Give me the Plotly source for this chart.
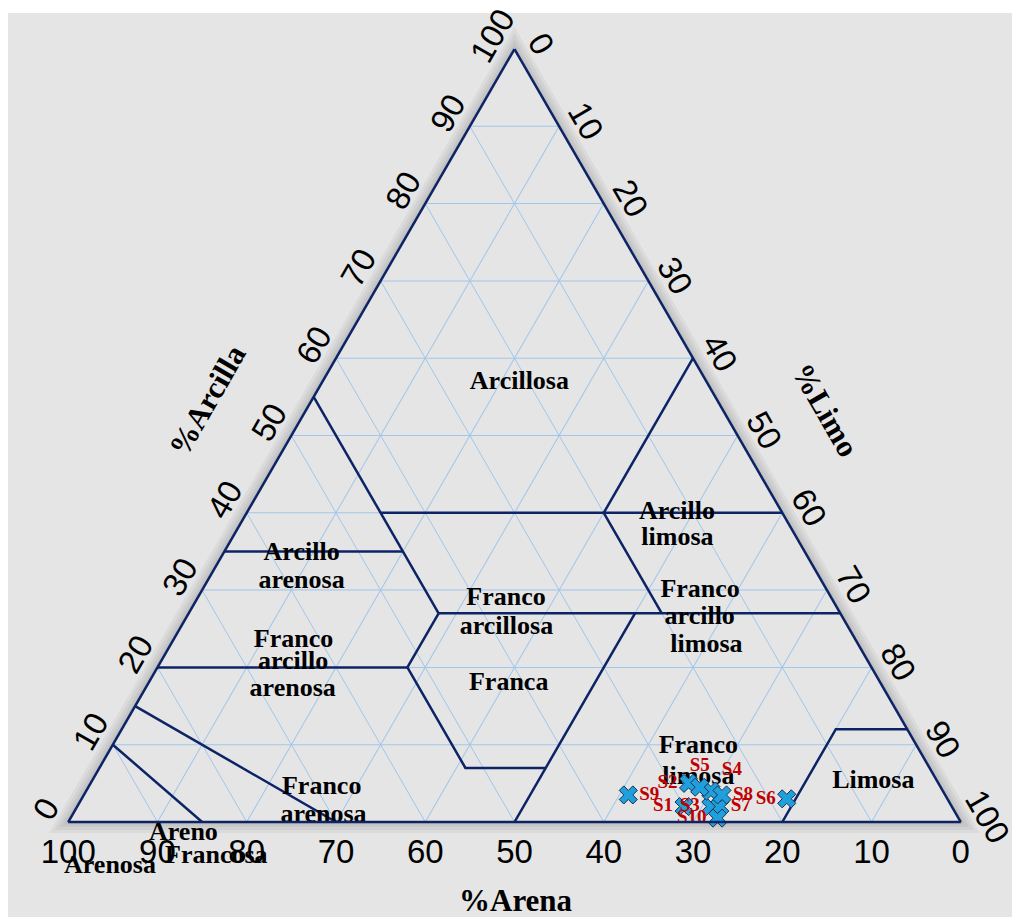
import math
import plotly.graph_objects as go

# ---------------- data ----------------
# samples: clay (%Arcilla), sand (%Arena), silt (%Limo)
samples = ["S1", "S2", "S3", "S4", "S5", "S6", "S7", "S8", "S9", "S10"]
clay = [2.0, 5.0, 2.0, 4.0, 4.5, 3.0, 2.0, 3.5, 3.5, 0.5]
sand = [30.0, 28.0, 27.0, 26.0, 27.0, 18.0, 26.0, 25.0, 35.5, 27.0]
silt = [68.0, 67.0, 71.0, 70.0, 68.5, 79.0, 72.0, 71.5, 61.0, 72.5]
sample_textpos = ["middle left", "middle left", "middle left", "top right", "top center",
                  "middle left", "middle right", "middle right", "middle right", "middle left"]

# texture class boundaries (clay, sand, silt) polylines
b_sandy_clay_right = [(55, 45, 0), (27, 45, 28)]
b_clay35 = [(35, 65, 0), (35, 45, 20)]
b_clay40 = [(40, 45, 15), (40, 0, 60)]
b_silt40 = [(40, 20, 40), (60, 0, 40)]
b_clay27 = [(27, 45, 28), (27, 0, 73)]
b_scl_right = [(27, 45, 28), (20, 52, 28)]
b_clay20 = [(20, 80, 0), (20, 52, 28)]
b_loam_low = [(20, 52, 28), (7, 52, 41), (7, 43, 50)]
b_sand20 = [(40, 20, 40), (27, 20, 53)]
b_silt50 = [(27, 23, 50), (0, 50, 50)]
b_silt = [(0, 20, 80), (12, 8, 80), (12, 0, 88)]
b_loamy_sand = [(15, 85, 0), (0, 70, 30)]
b_sand = [(10, 90, 0), (0, 85, 15)]
boundaries = [b_sandy_clay_right, b_clay35, b_clay40, b_silt40, b_clay27, b_scl_right,
              b_clay20, b_loam_low, b_sand20, b_silt50, b_silt, b_loamy_sand, b_sand]

# class label lines inside the triangle (clay, sand, silt)
class_words = ["Arcillosa",
               "Arcillo", "arenosa",
               "Arcillo", "limosa",
               "Franco", "arcillosa",
               "Franco", "arcillo", "arenosa",
               "Franco", "arcillo", "limosa",
               "Franca",
               "Franco", "limosa",
               "Limosa",
               "Franco", "arenosa"]
word_clay = [56.9, 34.7, 31.1, 40.0, 36.7, 28.9, 25.2, 23.5, 20.6, 17.1,
             30.0, 26.5, 22.8, 17.9, 9.8, 5.8, 5.2, 4.4, 0.8]
word_sand = [21.0, 56.5, 58.3, 11.8, 13.4, 36.5, 38.3, 63.0, 64.5, 66.3,
             14.2, 16.0, 17.1, 41.7, 24.5, 26.5, 7.2, 69.4, 71.0]
word_silt = [22.1, 8.8, 10.6, 48.2, 49.9, 34.6, 36.5, 13.5, 14.9, 16.6,
             55.8, 57.5, 60.1, 40.4, 65.7, 67.7, 87.6, 26.2, 28.2]

# labels lying outside the triangle, and axis titles (screen pixel centres)
outer_texts = ["Areno", "Francosa", "Arenosa"]
outer_x = [183, 216, 110]
outer_y = [831, 855, 864]
axis_titles = ["%Arcilla", "%Limo", "%Arena"]
title_x = [207, 826, 516]
title_y = [400, 410, 900]
title_angle = [-60, 60, 0]

NAVY = "#0c2466"
GRID = "#9fc6ec"
BG = "#e5e5e5"
SERIF = "Liberation Serif"
SANS = "Liberation Sans"
NBSP = "\u00a0"

fig = go.Figure()

for line in boundaries:
    fig.add_trace(go.Scatterternary(
        a=[p[0] for p in line], b=[p[1] for p in line], c=[p[2] for p in line],
        mode="lines", line=dict(color=NAVY, width=2.5), hoverinfo="skip"))

fig.add_trace(go.Scatterternary(
    a=word_clay, b=word_sand, c=word_silt, mode="text",
    text=["<b>" + t + "</b>" for t in class_words],
    textfont=dict(family=SERIF, size=26, color="black"), hoverinfo="skip",
    cliponaxis=False))

fig.add_trace(go.Scatterternary(
    a=clay, b=sand, c=silt, mode="markers+text",
    text=["<b>" + s + "</b>" for s in samples], textposition=sample_textpos,
    textfont=dict(family=SERIF, size=19, color="#c00000"),
    marker=dict(symbol="x", size=16, color="#1fa0dc", line=dict(color="#1b2f4f", width=1)),
    cliponaxis=False))

tickfont = dict(family=SANS, size=33, color="black")
common = dict(min=0, dtick=10, tick0=0, linecolor=NAVY, linewidth=2.5, gridcolor=GRID,
              gridwidth=1, showgrid=True, ticks="", tickfont=tickfont, title=dict(text=""))

OFF = 8                      # page body margin in the browser
W, H = 1022 - OFF, 917 - OFF
L, R, T, B = 60, 61, 41, 95
PW, PH = W - L - R, H - T - B


def px(x):                   # screen pixel -> paper
    return (x - OFF - L) / PW


def py(y):
    return 1 - (y - OFF - T) / PH


# triangle frame in paper units (same fit rule the ternary subplot uses) for the soft shadow
w_over_h = 2 / math.sqrt(3)
if PW > w_over_h * PH:
    th, tw = PH, PH * w_over_h
else:
    tw, th = PW, PW / w_over_h
tx0, tx1 = 0.5 - tw / 2 / PW, 0.5 + tw / 2 / PW
ty0, ty1 = 0.5 - th / 2 / PH, 0.5 + th / 2 / PH
tri_path = "M %f,%f L %f,%f L %f,%f Z" % (tx0, ty0, tx1, ty0, 0.5, ty1)

shapes = [
    dict(type="rect", xref="paper", yref="paper", x0=px(0), x1=px(1030), y0=py(0), y1=py(13),
         fillcolor="white", line=dict(width=0), layer="below"),
    dict(type="rect", xref="paper", yref="paper", x0=px(1012), x1=px(1030), y0=py(0), y1=py(930),
         fillcolor="white", line=dict(width=0), layer="below"),
]
for wdt in [22, 16, 10, 5]:
    shapes.append(dict(type="path", xref="paper", yref="paper", path=tri_path, layer="below",
                       line=dict(color="rgba(0,0,0,0.045)", width=wdt)))

annotations = []
for txt, x, y, ang in zip(axis_titles, title_x, title_y, title_angle):
    annotations.append(dict(text="<b>" + txt + "</b>", x=px(x), y=py(y), xref="paper", yref="paper",
                            xanchor="center", yanchor="middle", showarrow=False, textangle=ang,
                            font=dict(family=SERIF, size=31, color="black")))
for txt, x, y in zip(outer_texts, outer_x, outer_y):
    annotations.append(dict(text="<b>" + txt + "</b>", x=px(x), y=py(y), xref="paper", yref="paper",
                            xanchor="center", yanchor="middle", showarrow=False,
                            font=dict(family=SERIF, size=26, color="black")))

fig.update_layout(
    width=W, height=H,
    paper_bgcolor=BG,
    showlegend=False,
    margin=dict(l=L, r=R, t=T, b=B),
    ternary=dict(
        sum=100, bgcolor=BG,
        domain=dict(x=[0, 1], y=[0, 1]),
        aaxis=dict(common, tickangle=-60, ticksuffix=NBSP),
        baxis=dict(common, tickangle=0),
        caxis=dict(common, tickangle=60, tickprefix=NBSP * 3),
    ),
    annotations=annotations,
    shapes=shapes,
)

fig.write_html("out.html")
